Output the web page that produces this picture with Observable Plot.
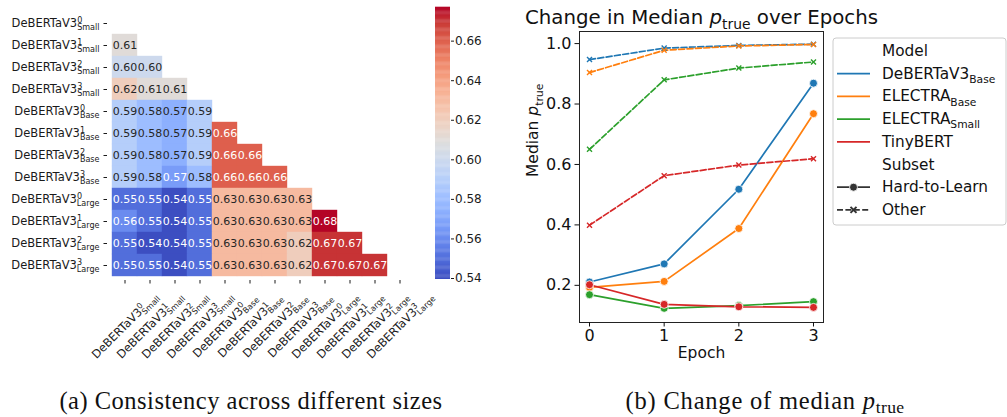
<!DOCTYPE html>
<html><head><meta charset="utf-8">
<script src="https://cdn.jsdelivr.net/npm/d3@7"></script>
<script src="https://cdn.jsdelivr.net/npm/@observablehq/plot@0.6"></script>
<style>
body{margin:0;background:#fff;}
#root{position:relative;width:1007px;height:417px;overflow:hidden;background:#fff;}
.panel{position:absolute;top:0;}
.cap{position:absolute;font-family:"Liberation Serif",serif;font-size:24.5px;letter-spacing:0.5px;color:#111;text-align:center;white-space:nowrap;line-height:1;}
.cap sub{font-size:0.72em;vertical-align:-0.25em;line-height:0;letter-spacing:0.3px;}
</style></head><body><div id="root"></div>
<script>
// ---------- data: panel (a) ----------
const sizes = ["Small", "Base", "Large"];
const seeds = [0, 1, 2, 3];
const heatLabels = sizes.flatMap(s => seeds.map(k => `DeBERTaV3^{${k}}_{${s}}`));
const rowS0 = [];
const rowS1 = [0.61];
const rowS2 = [0.60, 0.60];
const rowS3 = [0.62, 0.61, 0.61];
const rowB0 = [0.59, 0.58, 0.574, 0.59];
const rowB1 = [0.59, 0.58, 0.574, 0.59, 0.66];
const rowB2 = [0.59, 0.58, 0.574, 0.59, 0.66, 0.66];
const rowB3 = [0.59, 0.58, 0.566, 0.58, 0.66, 0.66, 0.66];
const rowL0 = [0.55, 0.55, 0.54, 0.55, 0.63, 0.63, 0.63, 0.63];
const rowL1 = [0.56, 0.55, 0.54, 0.55, 0.63, 0.63, 0.63, 0.63, 0.68];
const rowL2 = [0.55, 0.54, 0.54, 0.55, 0.63, 0.63, 0.63, 0.62, 0.67, 0.67];
const rowL3 = [0.55, 0.55, 0.54, 0.55, 0.63, 0.63, 0.63, 0.62, 0.67, 0.67, 0.67];
const consistencyRows = [rowS0, rowS1, rowS2, rowS3, rowB0, rowB1, rowB2, rowB3, rowL0, rowL1, rowL2, rowL3];
const colorLo = 0.5395, colorHi = 0.677;
const colorTicks = [0.54, 0.56, 0.58, 0.60, 0.62, 0.64, 0.66];
const captionA = "(a) Consistency across different sizes";

// ---------- data: panel (b) ----------
const epochs = [0, 1, 2, 3];
const modelKeys = ["DeBERTaV3_{Base}", "ELECTRA_{Base}", "ELECTRA_{Small}", "TinyBERT"];
const hardDeberta = [0.211, 0.271, 0.518, 0.869];
const hardElectraBase = [0.193, 0.213, 0.388, 0.768];
const hardElectraSmall = [0.169, 0.124, 0.133, 0.146];
const hardTinyBert = [0.202, 0.137, 0.129, 0.127];
const otherDeberta = [0.947, 0.985, 0.994, 0.998];
const otherElectraBase = [0.904, 0.978, 0.992, 0.997];
const otherElectraSmall = [0.650, 0.880, 0.919, 0.939];
const otherTinyBert = [0.399, 0.563, 0.598, 0.619];
const subsets = ["Hard-to-Learn", "Other"];
const yTicks = [0.2, 0.4, 0.6, 0.8, 1.0];
const titleText = "Change in Median *p*_{true} over Epochs";
const xLabel = "Epoch";
const yLabel = "Median *p*_{true}";
const legendModelTitle = "Model";
const legendSubsetTitle = "Subset";
const captionB = "(b) Change of median <i>p</i><sub>true</sub>";

// ---------- styles ----------
const coolwarm = ["#3b4cc0","#4d68d7","#6282ea","#779af7","#8db0fe","#a3c2ff","#b8d0f9","#ccd9ee","#dddddd","#ecd3c5","#f5c4ad","#f7b194","#f49a7b","#ec7f63","#de604d","#cb3e38","#b40426"];
const modelColors = ["#1f77b4", "#ff7f0e", "#2ca02c", "#d62728"];
const colorOpts = {type: "linear", domain: coolwarm.map((_, i) => colorLo + (colorHi - colorLo) * i / (coolwarm.length - 1)), range: coolwarm, interpolate: "rgb", clamp: true};
const cscale = Plot.scale({color: colorOpts});
function lum(c) {
  const f = x => { x /= 255; return x <= 0.03928 ? x / 12.92 : Math.pow((x + 0.055) / 1.055, 2.4); };
  const r = d3.rgb(c);
  return 0.2126 * f(r.r) + 0.7152 * f(r.g) + 0.0722 * f(r.b);
}
const cells = consistencyRows.flatMap((row, i) => row.map((v, j) => ({row: heatLabels[i], col: heatLabels[j], value: v})));
const darkCells = cells.filter(d => lum(cscale.apply(d.value)) <= 0.408);
const lightCells = cells.filter(d => lum(cscale.apply(d.value)) > 0.408);

const root = document.getElementById("root");
function place(node, left, top) {
  const w = document.createElement("div");
  w.className = "panel"; w.style.left = left + "px"; w.style.top = top + "px";
  w.appendChild(node); root.appendChild(w); return node;
}

// ---------- heatmap ----------
const heat = Plot.plot({
  width: 420, height: 390,
  marginLeft: 107, marginRight: 3, marginTop: 8, marginBottom: 110,
  style: {fontFamily: "DejaVu Sans", fontSize: "11.5px", color: "#1a1a1a", background: "transparent", overflow: "visible"},
  x: {domain: heatLabels, padding: 0, axis: null},
  y: {domain: heatLabels, padding: 0, axis: null},
  color: colorOpts,
  marks: [
    Plot.cell(cells, {x: "col", y: "row", fill: "value", inset: -0.2}),
    Plot.text(darkCells, {x: "col", y: "row", text: d => d.value.toFixed(2), fill: "white", fontSize: 11}),
    Plot.text(lightCells, {x: "col", y: "row", text: d => d.value.toFixed(2), fill: "#262626", fontSize: 11}),
    Plot.axisY({tickSize: 3.5, tickPadding: 4.5, tickFormat: d => d, label: null}),
    Plot.axisX({tickSize: 3.5, tickRotate: -45, textAnchor: "middle", lineAnchor: "middle", tickPadding: 41.5, tickFormat: d => d, label: null})
  ]
});
place(heat, 0, 0);

// ---------- colorbar ----------
const barN = 240;
const barSteps = d3.range(barN).map(i => ({y1: colorLo + (colorHi - colorLo) * i / barN, y2: colorLo + (colorHi - colorLo) * (i + 1) / barN}));
const bar = Plot.plot({
  width: 60, height: 290, marginLeft: 15, marginRight: 30, marginTop: 7, marginBottom: 11,
  style: {fontFamily: "DejaVu Sans", fontSize: "12px", color: "#1a1a1a", background: "transparent", overflow: "visible"},
  y: {domain: [colorLo, colorHi]},
  color: colorOpts,
  marks: [
    Plot.rect(barSteps, {y1: "y1", y2: "y2", fill: d => (d.y1 + d.y2) / 2, insetTop: -0.3}),
    Plot.axisY({anchor: "right", ticks: colorTicks, tickFormat: d => d.toFixed(2), tickSize: 3, tickPadding: 1.5, label: null})
  ]
});
place(bar, 420, 0);

// ---------- line chart ----------
const hardSeries = [hardDeberta, hardElectraBase, hardElectraSmall, hardTinyBert];
const otherSeries = [otherDeberta, otherElectraBase, otherElectraSmall, otherTinyBert];
const hardRows = modelKeys.flatMap((m, mi) => epochs.map((e, ei) => ({model: m, subset: subsets[0], epoch: e, value: hardSeries[mi][ei]})));
const otherRows = modelKeys.flatMap((m, mi) => epochs.map((e, ei) => ({model: m, subset: subsets[1], epoch: e, value: otherSeries[mi][ei]})));

const lineChart = Plot.plot({
  width: 507, height: 380,
  marginLeft: 79, marginRight: 184, marginTop: 31, marginBottom: 58,
  style: {fontFamily: "DejaVu Sans", fontSize: "16px", color: "#111", background: "transparent", overflow: "visible"},
  x: {domain: [-0.134, 3.134]},
  y: {domain: [0.077, 1.04]},
  color: {domain: modelKeys, range: modelColors},
  marks: [
    Plot.line(hardRows, {x: "epoch", y: "value", stroke: "model", z: "model", strokeWidth: 1.7}),
    Plot.line(otherRows, {x: "epoch", y: "value", stroke: "model", z: "model", strokeWidth: 1.7, strokeDasharray: "6,2.4"}),
    Plot.dot(hardRows, {x: "epoch", y: "value", fill: "model", stroke: "white", strokeWidth: 0.8, r: 4}),
    Plot.dot(otherRows, {x: "epoch", y: "value", stroke: "model", symbol: "times", r: 2.4, strokeWidth: 1.4}),
    Plot.frame({stroke: "#222", strokeWidth: 1}),
    Plot.axisX({ticks: epochs, tickFormat: d => String(d), tickSize: 4.5, tickPadding: 2.5, label: null}),
    Plot.axisY({ticks: yTicks, tickFormat: d => d.toFixed(1), tickSize: 4.5, tickPadding: 3.5, label: null}),
    Plot.text([titleText], {frameAnchor: "top", dy: -14, fontSize: 19.8, lineAnchor: "middle"}),
    Plot.text([xLabel], {frameAnchor: "bottom", dy: 31, fontSize: 15.5, lineAnchor: "middle"}),
    Plot.text([yLabel], {frameAnchor: "left", dx: -46, rotate: -90, fontSize: 15.5, lineAnchor: "middle"})
  ]
});
place(lineChart, 500, 0);

// ---------- legend (inside the line chart svg) ----------
const svgL = d3.select(lineChart);
const lg = svgL.append("g").attr("font-family", "DejaVu Sans").attr("font-size", 15.3).attr("fill", "#111").attr("text-anchor", "start");
lg.append("rect").attr("x", 333).attr("y", 38).attr("width", 173).attr("height", 187).attr("rx", 3)
  .attr("fill", "white").attr("fill-opacity", 0.85).attr("stroke", "#cccccc");
const legendRows = [
  {kind: "title", label: legendModelTitle},
  ...modelKeys.map((m, i) => ({kind: "model", label: m, color: modelColors[i]})),
  {kind: "title", label: legendSubsetTitle},
  {kind: "hard", label: subsets[0]},
  {kind: "other", label: subsets[1]}
];
legendRows.forEach((r, i) => {
  const base = 56 + i * 22.7;
  const g = lg.append("g");
  if (r.kind === "model") {
    g.append("line").attr("x1", 337).attr("x2", 370).attr("y1", base - 5).attr("y2", base - 5).attr("stroke", r.color).attr("stroke-width", 1.7);
  } else if (r.kind === "hard") {
    g.append("line").attr("x1", 337).attr("x2", 370).attr("y1", base - 5).attr("y2", base - 5).attr("stroke", "#333").attr("stroke-width", 1.7);
    g.append("circle").attr("cx", 353.5).attr("cy", base - 5).attr("r", 4).attr("fill", "#333").attr("stroke", "white").attr("stroke-width", 0.8);
  } else if (r.kind === "other") {
    g.append("line").attr("x1", 337).attr("x2", 370).attr("y1", base - 5).attr("y2", base - 5).attr("stroke", "#333").attr("stroke-width", 1.7).attr("stroke-dasharray", "6,2.4");
    g.append("path").attr("d", "M350.5,-8L356.5,-2M350.5,-2L356.5,-8").attr("transform", `translate(0,${base})`).attr("stroke", "#333").attr("stroke-width", 2);
  }
  g.append("text").attr("x", 382).attr("y", base).attr("text-anchor", "start").text(r.label);
});

// ---------- captions ----------
const capA = document.createElement("div");
capA.className = "cap"; capA.style.left = "0px"; capA.style.width = "502px"; capA.style.top = "389px";
capA.textContent = captionA; root.appendChild(capA);
const capB = document.createElement("div");
capB.className = "cap"; capB.style.left = "530px"; capB.style.width = "470px"; capB.style.top = "389px"; capB.style.letterSpacing = "0.8px";
capB.innerHTML = captionB; root.appendChild(capB);

// ---------- rich text (sub/superscripts, italics) ----------
function richify(el) {
  const s = el.textContent;
  if (!/[\^_]\{|\*/.test(s)) return;
  const re = /\^\{([^}]*)\}|_\{([^}]*)\}|\*([^*]*)\*|([^\^_*]+)/g;
  const parts = []; let m;
  while ((m = re.exec(s))) {
    if (m[1] != null) parts.push({t: m[1], k: "sup"});
    else if (m[2] != null) parts.push({t: m[2], k: "sub"});
    else if (m[3] != null) parts.push({t: m[3], k: "it"});
    else parts.push({t: m[4], k: "n"});
  }
  const fs = parseFloat(getComputedStyle(el).fontSize) || 11;
  while (el.firstChild) el.removeChild(el.firstChild);
  let cur = 0, prev = null;
  for (const p of parts) {
    const ts = document.createElementNS("http://www.w3.org/2000/svg", "tspan");
    ts.textContent = p.t;
    const target = p.k === "sup" ? -0.4 * fs : p.k === "sub" ? 0.27 * fs : 0;
    if (p.k === "sup" || p.k === "sub") ts.setAttribute("font-size", (0.7 * fs).toFixed(2));
    if (p.k === "it") ts.setAttribute("font-style", "italic");
    const dy = target - cur;
    if (Math.abs(dy) > 1e-6) ts.setAttribute("dy", dy.toFixed(2));
    el.appendChild(ts);
    if (p.k === "sub" && prev && prev.k === "sup") ts.setAttribute("dx", (-prev.el.getComputedTextLength()).toFixed(2));
    cur = target;
    prev = {k: p.k, el: ts};
  }
}
root.querySelectorAll("svg text").forEach(richify);
</script></body></html>
